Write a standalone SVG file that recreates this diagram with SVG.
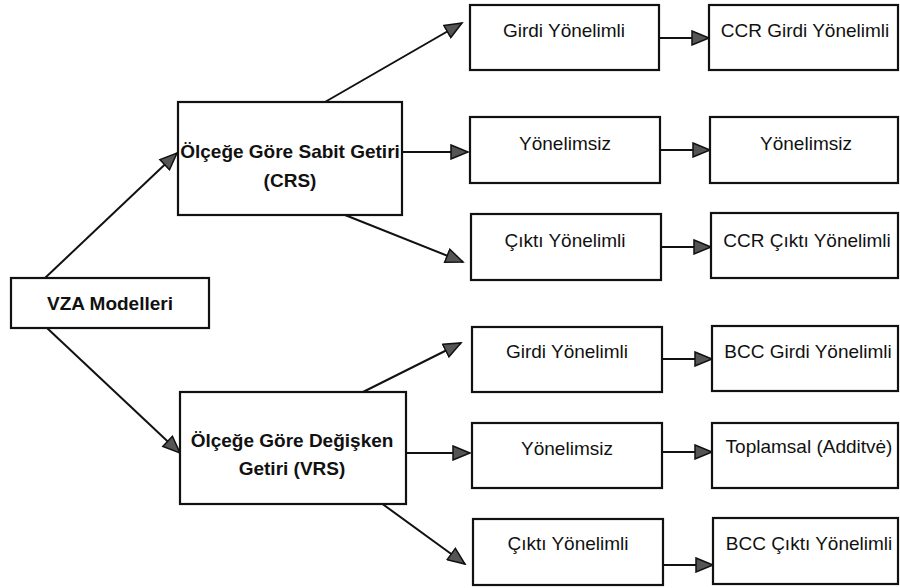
<svg xmlns="http://www.w3.org/2000/svg" width="900" height="588" viewBox="0 0 900 588">
<style>
.box{fill:#fff;stroke:#111;stroke-width:2.2}
.t{font-family:"Liberation Sans",Arial,sans-serif;font-size:19px;fill:#111;text-anchor:middle}
.b{font-weight:bold}
.c{stroke:#111;stroke-width:2;fill:none;marker-end:url(#ah)}
</style>
<defs>
<marker id="ah" markerUnits="userSpaceOnUse" markerWidth="20" markerHeight="16" viewBox="0 0 20 16" refX="18" refY="8" orient="auto">
<path d="M1,1 L18,8 L1,15 Z" fill="#555" stroke="#111" stroke-width="1.5"/>
</marker>
</defs>
<rect width="900" height="588" fill="#fff"/>
<g id="connectors">
<line class="c" x1="45" y1="278" x2="177" y2="153"/>
<line class="c" x1="47" y1="328" x2="180" y2="453"/>
<line class="c" x1="325" y1="102" x2="462" y2="23"/>
<line class="c" x1="402" y1="152" x2="468" y2="152"/>
<line class="c" x1="345" y1="215" x2="463" y2="262"/>
<line class="c" x1="363" y1="392" x2="461" y2="343"/>
<line class="c" x1="393" y1="453" x2="470" y2="453"/>
<line class="c" x1="377" y1="500" x2="465" y2="564"/>
<line class="c" x1="653" y1="38" x2="709" y2="38"/>
<line class="c" x1="653" y1="150" x2="710" y2="150"/>
<line class="c" x1="655" y1="247" x2="711" y2="247"/>
<line class="c" x1="656" y1="359" x2="712" y2="359"/>
<line class="c" x1="657" y1="452" x2="712" y2="452"/>
<line class="c" x1="657" y1="565" x2="713" y2="565"/>
</g>
<g id="vza"><rect class="box" x="11" y="278" width="198" height="50"/><text class="t b" x="110" y="310">VZA Modelleri</text></g>
<g id="crs"><rect class="box" x="178" y="102" width="224" height="113"/><text class="t b" x="290" y="158">Ölçeğe Göre Sabit Getiri</text><text class="t b" x="290" y="187">(CRS)</text></g>
<g id="vrs"><rect class="box" x="180" y="392" width="226" height="112"/><text class="t b" x="292" y="447">Ölçeğe Göre Değişken</text><text class="t b" x="292" y="475">Getiri (VRS)</text></g>
<g id="crs-girdi"><rect class="box" x="470" y="5" width="189" height="65"/><text class="t" x="564" y="37">Girdi Yönelimli</text></g>
<g id="crs-yonelimsiz"><rect class="box" x="470" y="117" width="190" height="66"/><text class="t" x="565" y="150">Yönelimsiz</text></g>
<g id="crs-cikti"><rect class="box" x="471" y="214" width="190" height="66"/><text class="t" x="565" y="247">Çıktı Yönelimli</text></g>
<g id="ccr-girdi"><rect class="box" x="709" y="5" width="189" height="65"/><text class="t" x="805" y="37">CCR Girdi Yönelimli</text></g>
<g id="ccr-yonelimsiz"><rect class="box" x="710" y="117" width="188" height="66"/><text class="t" x="806" y="150">Yönelimsiz</text></g>
<g id="ccr-cikti"><rect class="box" x="711" y="213" width="187" height="65"/><text class="t" x="807" y="247">CCR Çıktı Yönelimli</text></g>
<g id="vrs-girdi"><rect class="box" x="472" y="327" width="190" height="65"/><text class="t" x="567" y="358">Girdi Yönelimli</text></g>
<g id="vrs-yonelimsiz"><rect class="box" x="472" y="423" width="190" height="65"/><text class="t" x="567" y="455">Yönelimsiz</text></g>
<g id="vrs-cikti"><rect class="box" x="473" y="519" width="190" height="66"/><text class="t" x="568" y="550">Çıktı Yönelimli</text></g>
<g id="bcc-girdi"><rect class="box" x="712" y="326" width="186" height="65"/><text class="t" x="808" y="358">BCC Girdi Yönelimli</text></g>
<g id="toplamsal"><rect class="box" x="712" y="423" width="186" height="65"/><text class="t" x="809" y="453">Toplamsal (Additvė)</text></g>
<g id="bcc-cikti"><rect class="box" x="713" y="518" width="185" height="66"/><text class="t" x="809" y="550">BCC Çıktı Yönelimli</text></g>
</svg>
